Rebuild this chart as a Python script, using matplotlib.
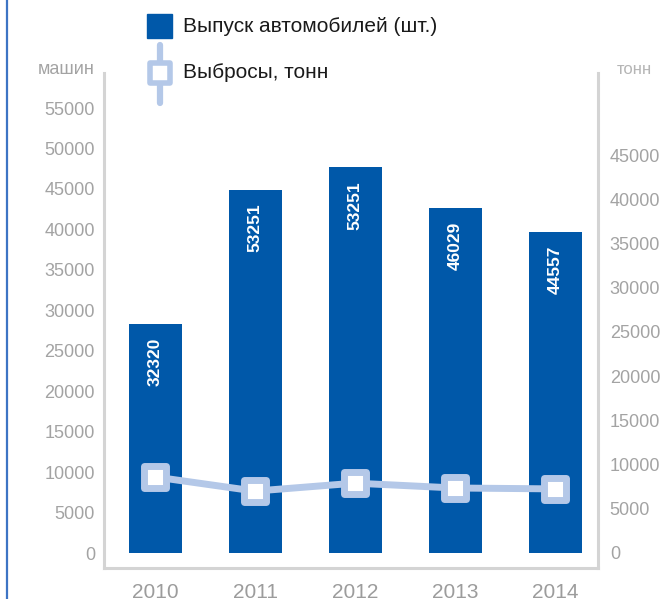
import matplotlib.pyplot as plt
from matplotlib.markers import MarkerStyle
from matplotlib.lines import Line2D
from matplotlib.patches import Rectangle

# данные
years = ['2010', '2011', '2012', '2013', '2014']
cars_height = [28300, 44900, 47700, 42650, 39650]   # высота столбцов (левая ось)
cars_labels = ['32320', '53251', '53251', '46029', '44557']  # подписи на столбцах
emissions = [8600, 7000, 7900, 7350, 7250]   # выбросы, тонн (правая ось)

plt.rcParams['font.family'] = ['Liberation Sans', 'DejaVu Sans']

BAR = '#0058a9'
LINE = '#b4c8e8'
FRAME = '#d4d4d4'
TICK = '#a3a3a3'

W, H = 666, 599
fig = plt.figure(figsize=(W / 100, H / 100), dpi=100)
ax = fig.add_axes([104 / W, 31 / H, 494 / W, 495 / H])
ax2 = ax.twinx()

x = list(range(len(years)))
ax.bar(x, cars_height, width=0.53, color=BAR, zorder=2)
for xi, h, lab in zip(x, cars_height, cars_labels):
    ax.annotate(lab, (xi, h), xytext=(0, -10), textcoords='offset points',
                rotation=90, ha='center', va='top', color='white',
                fontsize=12.5, fontweight='bold')

sq = MarkerStyle('s', joinstyle='round')
ax2.plot(x, emissions, color=LINE, lw=5, marker=sq, markersize=16.5,
         markeredgewidth=5, markerfacecolor='white', markeredgecolor=LINE,
         solid_capstyle='round', zorder=3)

ax.set_xlim(-0.51, 4.43)
ax.set_ylim(-1850, 59330)
ax2.set_ylim(-1700, 54300)
ax.set_xticks(x, years)
ax.set_yticks(range(0, 55001, 5000))
ax2.set_yticks(range(0, 45001, 5000))

for s in ['left', 'bottom', 'right']:
    ax.spines[s].set_color(FRAME)
    ax.spines[s].set_linewidth(2.2)
ax.spines['top'].set_visible(False)
for s in ax2.spines.values():
    s.set_visible(False)

ax.tick_params(axis='y', length=0, pad=6.5, labelsize=13, labelcolor=TICK)
ax.tick_params(axis='x', length=0, pad=11, labelsize=15, labelcolor='#9c9c9c')
ax2.tick_params(axis='y', length=0, pad=8.5, labelsize=13, labelcolor=TICK)

# синяя линия слева
fig.add_artist(Line2D([6.5 / W] * 2, [0, 1], color='#3d74c4', lw=1.6))

# легенда
fig.add_artist(Rectangle((147 / W, 1 - 38 / H), 25 / W, 24 / H,
                         transform=fig.transFigure, color=BAR))
fig.add_artist(Line2D([159.5 / W] * 2, [1 - 45 / H, 1 - 103 / H], lw=4.5,
                      color=LINE, solid_capstyle='round'))
fig.add_artist(Line2D([159.5 / W], [1 - 73 / H], marker=sq, markersize=14,
                      markeredgewidth=4, markerfacecolor='white',
                      markeredgecolor=LINE))
fig.text(183 / W, 1 - 26 / H, 'Выпуск автомобилей (шт.)', va='center',
         fontsize=15, color='#1a1a1a')
fig.text(183 / W, 1 - 73 / H, 'Выбросы, тонн', va='center',
         fontsize=15, color='#1a1a1a')

fig.text(95 / W, 1 - 69 / H, 'машин', ha='right', va='center',
         fontsize=13, color=TICK)
fig.text(617 / W, 1 - 69 / H, 'тонн', ha='left', va='center',
         fontsize=12, color='#b5b5b5')

fig.savefig('out.png', dpi=100)
